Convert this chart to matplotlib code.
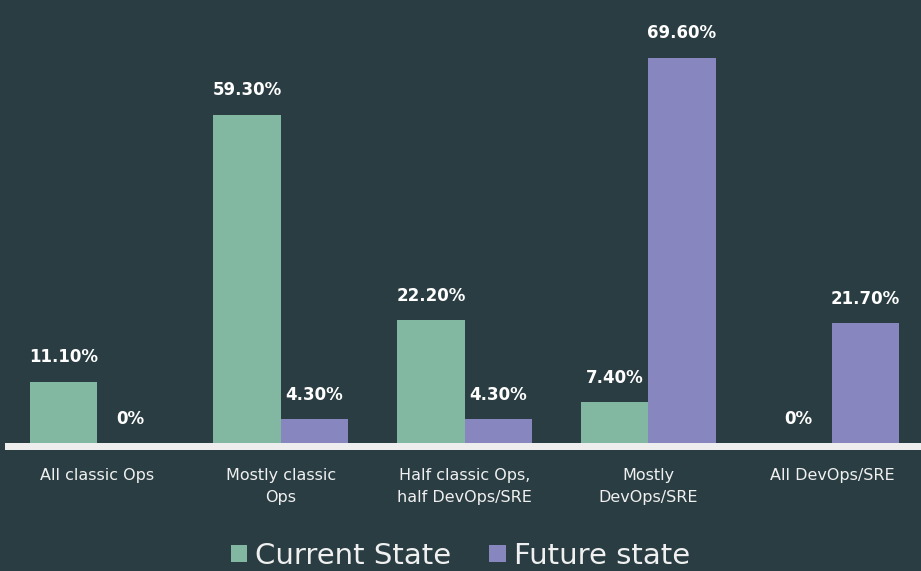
import matplotlib
matplotlib.use("Agg")
import matplotlib.pyplot as plt
import numpy as np
from matplotlib.patches import Patch, Rectangle

categories = ["All classic Ops", "Mostly classic\nOps", "Half classic Ops,\nhalf DevOps/SRE",
              "Mostly\nDevOps/SRE", "All DevOps/SRE"]
current = [11.1, 59.3, 22.2, 7.4, 0.0]
future = [0.0, 4.3, 4.3, 69.6, 21.7]
current_labels = ["11.10%", "59.30%", "22.20%", "7.40%", "0%"]
future_labels = ["0%", "4.30%", "4.30%", "69.60%", "21.70%"]
series_names = ["Current State", "Future state"]

BG = "#2a3d42"
GREEN = "#82b8a2"
PURPLE = "#8886bf"
TXT = "#f0f0f0"

plt.rcParams['font.family'] = ['DejaVu Sans']

fig = plt.figure(figsize=(9.21, 5.71), dpi=100, facecolor=BG)
W, H = 921, 571
ax = fig.add_axes([5 / W, (H - 443) / H, 919 / W, 443 / H])
ax.set_facecolor(BG)

x = np.arange(len(categories))
bw = 0.366
ax.bar(x - bw / 2, current, bw, color=GREEN, zorder=2)
ax.bar(x + bw / 2, future, bw, color=PURPLE, zorder=2)

for xi, v, lab in zip(x - bw / 2, current, current_labels):
    ax.annotate(lab, (xi, v), xytext=(0, 11), textcoords="offset points",
                ha="center", va="bottom", color="white", fontsize=12, fontweight="bold")
for xi, v, lab in zip(x + bw / 2, future, future_labels):
    ax.annotate(lab, (xi, v), xytext=(0, 11), textcoords="offset points",
                ha="center", va="bottom", color="white", fontsize=12, fontweight="bold")

# baseline bar under the axis
fig.patches.append(Rectangle((5 / W, (H - 450) / H), 916 / W, 7 / H,
                             transform=fig.transFigure, facecolor="#eeeeee",
                             edgecolor="none", zorder=3))

ax.set_xlim(-0.5, len(categories) - 0.5)
ax.set_ylim(0, 80)
ax.set_yticks([])
ax.set_xticks(x)
ax.set_xticklabels(categories, color=TXT, fontsize=11.5, linespacing=1.6)
ax.tick_params(axis="x", length=0, pad=18)
for s in ax.spines.values():
    s.set_visible(False)

handles = [Patch(facecolor=GREEN, edgecolor="none"), Patch(facecolor=PURPLE, edgecolor="none")]
fig.legend(handles, series_names, loc="center", bbox_to_anchor=(0.5, (H - 556) / H),
           ncol=2, frameon=False, fontsize=21, handlelength=0.55, handleheight=0.55,
           handletextpad=0.3, columnspacing=1.3, labelcolor=TXT, borderpad=0)

fig.savefig("out.png", dpi=100, facecolor=BG)
